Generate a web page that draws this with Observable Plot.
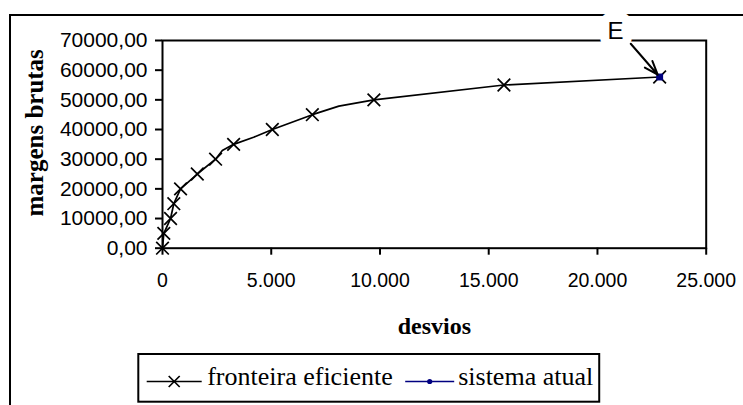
<!DOCTYPE html>
<html>
<head>
<meta charset="utf-8">
<script src="https://cdn.jsdelivr.net/npm/d3@7"></script>
<script src="https://cdn.jsdelivr.net/npm/@observablehq/plot@0.6"></script>
<style>
  html, body { margin: 0; padding: 0; background: #fff; overflow: hidden; }
  #chart { position: relative; width: 743px; height: 405px; overflow: hidden; }
  #borda { position: absolute; left: 9px; top: 14px; width: 900px; height: 600px;
           border: 2px solid #000; box-sizing: border-box; }
  #chart svg { position: absolute; left: 0; top: 0; }
</style>
</head>
<body>
<div id="chart"><div id="borda"></div></div>
<script>
// Portfolios on the efficient frontier (marked points)
const desvios = [0, 60, 370, 520, 830, 1600, 2440, 3270, 5050, 6890, 9720, 15700, 22860];
const margens = [0, 5000, 10000, 15000, 20000, 25000, 30000, 35000, 40000, 45000, 50000, 55000, 57700];
// Extra vertices of the frontier curve between marked portfolios
const desviosIntermedios = [2750, 4190, 8110];
const margensIntermedias = [32900, 37400, 47900];
// Current farming system
const sistemaAtual = [{desvio: 22860, margem: 57700}];
// Callout "E" pointing at the current system
const rotulo = [{texto: "E", desvio: 20830, margem: 73100, desvioSeta: 21530, margemSeta: 68900}];

const xTicks = [0, 5000, 10000, 15000, 20000, 25000];
const yTicks = [0, 10000, 20000, 30000, 40000, 50000, 60000, 70000];
const series = ["fronteira eficiente", "sistema atual"];
const cores = ["#000000", "#000080"];

const ptBR = d3.formatLocale({decimal: ",", thousands: ".", grouping: [3], currency: ["R$ ", ""]});
const fmtX = ptBR.format(",.0f");
const fmtY = ptBR.format(".2f");

const pontos = desvios.map((d, i) => ({desvio: d, margem: margens[i]}));
const vertices = pontos
  .concat(desviosIntermedios.map((d, i) => ({desvio: d, margem: margensIntermedias[i]})))
  .sort((a, b) => a.desvio - b.desvio);

const sans = "'Liberation Sans', Arial, sans-serif";
const serif = "'Liberation Serif', 'Times New Roman', serif";

const chart = Plot.plot({
  width: 743,
  height: 405,
  marginLeft: 162,
  marginRight: 37.3,
  marginTop: 40,
  marginBottom: 157.3,
  style: {background: "transparent", overflow: "visible", color: "#000"},
  x: {domain: [0, 25000], label: null},
  y: {domain: [0, 70000], label: null},
  marks: [
    Plot.frame({stroke: "#000", strokeWidth: 2}),
    Plot.axisX({ticks: xTicks, tickFormat: fmtX, tickSize: 7, tickPadding: 18,
      strokeWidth: 2, fontSize: 19.5, fontFamily: sans, label: null}),
    Plot.axisY({ticks: yTicks, tickFormat: fmtY, tickSize: 7, tickPadding: 8,
      strokeWidth: 2, fontSize: 21, fontFamily: sans, label: null}),
    Plot.text(["desvios"], {frameAnchor: "bottom", lineAnchor: "bottom", dy: 85.5,
      fontSize: 24, fontWeight: "bold", fontFamily: serif}),
    Plot.text(["margens brutas"], {frameAnchor: "left", textAnchor: "middle", lineAnchor: "bottom",
      rotate: -90, dx: -119.5, dy: -11.5, fontSize: 25, fontWeight: "bold", fontFamily: serif}),
    Plot.line(vertices, {x: "desvio", y: "margem", stroke: cores[0], strokeWidth: 1.7}),
    Plot.dot(pontos, {x: "desvio", y: "margem", symbol: "times", r: 5.8,
      stroke: cores[0], strokeWidth: 1.7}),
    Plot.dot(sistemaAtual, {x: "desvio", y: "margem", symbol: "square", r: 3.9,
      fill: cores[1]}),
    Plot.text(rotulo, {x: "desvio", y: "margem", text: "texto", fontSize: 24, fontFamily: sans,
      fill: "#000", stroke: "#fff", strokeWidth: 18}),
    Plot.arrow(rotulo, {x1: "desvioSeta", y1: "margemSeta",
      x2: () => sistemaAtual[0].desvio, y2: () => sistemaAtual[0].margem,
      stroke: "#000", strokeWidth: 2, headLength: 18, headAngle: 40, insetEnd: 3})
  ]
});
document.getElementById("chart").appendChild(chart);

// Legend box below the plot
const leg = d3.select("#chart").append("svg")
  .attr("width", 743).attr("height", 405);
const caixa = leg.append("rect").attr("x", 138.3).attr("y", 354).attr("height", 47.7)
  .attr("fill", "#fff").attr("stroke", "#000").attr("stroke-width", 2);
const yLinha = 381.5, yBase = 385;
let x = 146.7;
const comprimentos = [55, 49], folgas = [5.5, 4];
series.forEach((nome, i) => {
  const len = comprimentos[i];
  leg.append("line").attr("x1", x).attr("x2", x + len).attr("y1", yLinha).attr("y2", yLinha)
    .attr("stroke", cores[i]).attr("stroke-width", 1.7);
  const cx = x + len / 2;
  if (i === 0) {
    leg.append("path").attr("transform", `translate(${cx},${yLinha})`)
      .attr("d", "M-5.5,-5.5L5.5,5.5M5.5,-5.5L-5.5,5.5")
      .attr("stroke", cores[i]).attr("stroke-width", 1.7).attr("fill", "none");
  } else {
    leg.append("circle").attr("cx", cx).attr("cy", yLinha).attr("r", 2.6).attr("fill", cores[i]);
  }
  x += len + folgas[i];
  const t = leg.append("text").attr("x", x).attr("y", yBase)
    .attr("font-family", serif).attr("font-size", 26).attr("fill", "#000").text(nome);
  x += t.node().getComputedTextLength() + (i === 0 ? 12.5 : 6);
});
caixa.attr("width", x - 138.3);
</script>
</body>
</html>
